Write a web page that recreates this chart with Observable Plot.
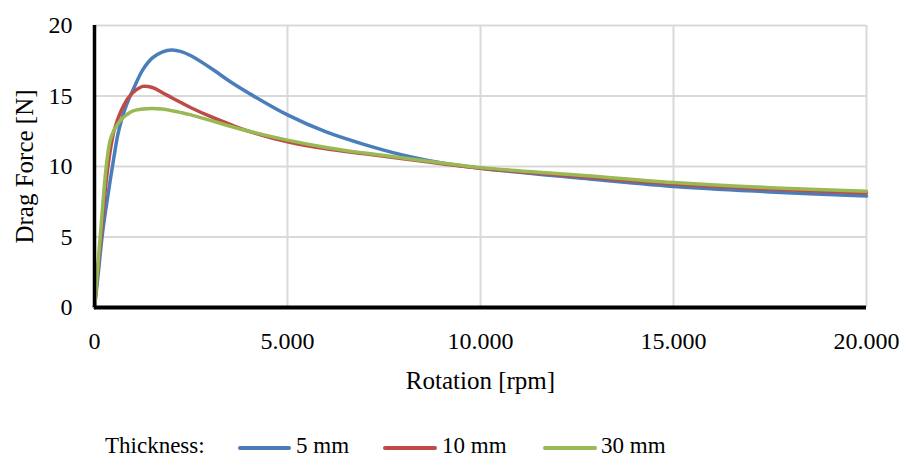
<!DOCTYPE html>
<html>
<head>
<meta charset="utf-8">
<script src="https://cdn.jsdelivr.net/npm/d3@7"></script>
<script src="https://cdn.jsdelivr.net/npm/@observablehq/plot@0.6"></script>
<style>
  html, body { margin: 0; padding: 0; background: #fff; }
  #wrap { width: 907px; height: 461px; position: relative; font-family: "Liberation Serif", "Times New Roman", serif; }
  #chart svg text { font-family: "Liberation Serif", "Times New Roman", serif; }
  #legend { position: absolute; left: 0; top: 400px; width: 907px; height: 61px; font-size: 23px; line-height: 23px; color: #000; }
  #legend span.t { position: absolute; top: 34px; white-space: nowrap; }
  #legend span.s { position: absolute; top: 46px; height: 4px; border-radius: 2px; }
</style>
</head>
<body>
<div id="wrap">
  <div id="chart"></div>
  <div id="legend"></div>
</div>
<script>
// Data
const rpm = [0, 100, 200, 300, 400, 500, 600, 700, 800, 900, 1000, 1250, 1500, 1750, 2000, 2250, 2500, 3000, 3500, 4000, 5000, 6000, 7000, 8000, 9000, 10000, 12500, 15000, 17500, 20000];
const force5mm  = [0, 2.5, 5.1, 7.1, 8.9, 10.6, 12.2, 13.3, 14.15, 14.85, 15.45, 16.85, 17.7, 18.12, 18.27, 18.15, 17.85, 17.0, 16.05, 15.2, 13.66, 12.45, 11.55, 10.8, 10.25, 9.88, 9.2, 8.58, 8.2, 7.9];
const force10mm = [0, 3.0, 6.0, 8.9, 11.0, 12.45, 13.35, 14.0, 14.55, 14.95, 15.25, 15.68, 15.6, 15.25, 14.88, 14.52, 14.17, 13.55, 13.0, 12.5, 11.75, 11.25, 10.9, 10.55, 10.2, 9.88, 9.3, 8.75, 8.4, 8.12];
const force30mm = [0, 3.4, 6.8, 9.9, 11.8, 12.55, 13.0, 13.35, 13.6, 13.8, 13.95, 14.08, 14.12, 14.07, 13.96, 13.82, 13.66, 13.27, 12.87, 12.5, 11.87, 11.35, 10.95, 10.6, 10.25, 9.92, 9.4, 8.87, 8.5, 8.25];
const seriesNames = ["5 mm", "10 mm", "30 mm"];
const seriesColors = ["#4a7ebb", "#be4b48", "#98b954"];
const xTicks = [0, 5000, 10000, 15000, 20000];
const yTicks = [0, 5, 10, 15, 20];
const legendTitle = "Thickness:";
const xLabel = "Rotation [rpm]";
const yLabel = "Drag Force [N]";

const seriesValues = [force5mm, force10mm, force30mm];
const data = [];
seriesNames.forEach((name, s) => {
  rpm.forEach((r, i) => data.push({rpm: r, force: seriesValues[s][i], series: name}));
});

const fmtX = d => d === 0 ? "0" : d3.format(",")(d).replace(/,/g, ".");
const serif = "'Liberation Serif', 'Times New Roman', serif";

const chart = Plot.plot({
  width: 907,
  height: 400,
  marginLeft: 94,
  marginRight: 41,
  marginTop: 25,
  marginBottom: 93,
  style: {fontFamily: serif, fontSize: "24px", color: "#000", background: "#fff"},
  x: {domain: [0, 20000]},
  y: {domain: [0, 20]},
  color: {domain: seriesNames, range: seriesColors},
  marks: [
    Plot.gridX(xTicks, {stroke: "#d9d9d9", strokeOpacity: 1, strokeWidth: 2}),
    Plot.gridY(yTicks, {stroke: "#d9d9d9", strokeOpacity: 1, strokeWidth: 2}),
    Plot.axisX(xTicks, {tickSize: 0, tickPadding: 24, tickFormat: fmtX, label: null, fontSize: 24, fontFamily: serif}),
    Plot.axisY(yTicks, {tickSize: 0, tickPadding: 22, label: null, fontSize: 24, fontFamily: serif}),
    Plot.line(data, {x: "rpm", y: "force", z: "series", stroke: "series", strokeWidth: 3.5, curve: "catmull-rom"}),
    Plot.ruleX([0], {stroke: "#000", strokeWidth: 3.5}),
    Plot.ruleY([0], {stroke: "#000", strokeWidth: 4}),
    Plot.text([xLabel], {frameAnchor: "bottom", dy: 73, fontSize: 25, lineAnchor: "middle", fontFamily: serif}),
    Plot.text([yLabel], {frameAnchor: "left", textAnchor: "middle", dx: -70, rotate: -90, fontSize: 25, lineAnchor: "middle", fontFamily: serif})
  ]
});
document.getElementById("chart").appendChild(chart);

// Legend
const legend = document.getElementById("legend");
const items = [
  {type: "t", text: legendTitle, left: 105},
  {type: "s", color: seriesColors[0], left: 238, width: 53},
  {type: "t", text: seriesNames[0], left: 296},
  {type: "s", color: seriesColors[1], left: 383, width: 54},
  {type: "t", text: seriesNames[1], left: 442},
  {type: "s", color: seriesColors[2], left: 543, width: 54},
  {type: "t", text: seriesNames[2], left: 601}
];
for (const it of items) {
  const el = document.createElement("span");
  el.className = it.type;
  el.style.left = it.left + "px";
  if (it.type === "t") el.textContent = it.text;
  else { el.style.width = it.width + "px"; el.style.background = it.color; }
  legend.appendChild(el);
}
</script>
</body>
</html>
